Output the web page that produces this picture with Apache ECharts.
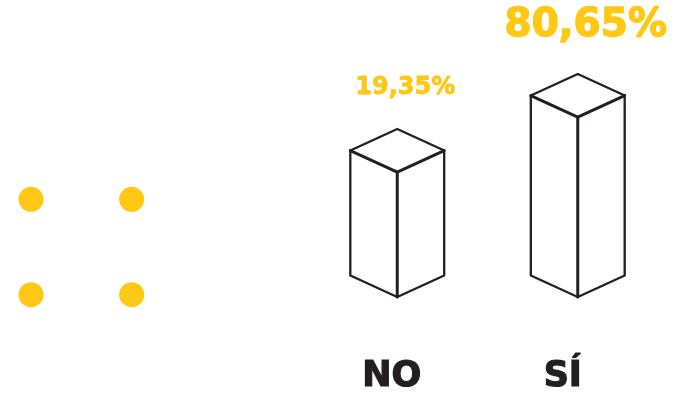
<!DOCTYPE html>
<html>
<head>
<meta charset="utf-8">
<script src="https://cdn.jsdelivr.net/npm/echarts@6/dist/echarts.min.js"></script>
<style>
html,body{margin:0;padding:0;background:#fff;}
#chart{width:674px;height:401px;}
</style>
</head>
<body>
<div id="chart"></div>
<script>
const categories = ['NO', 'SÍ'];
const values = [19.35, 80.65];
const valueLabels = ['19,35%', '80,65%'];

const INK = '#231f20';
const YELLOW = '#FFC814';
const labelFontSize = {'NO': 24, 'SÍ': 39};
const labelStroke = {'NO': 0.8, 'SÍ': 1.4};
const AXIS_MIN = -120;

const chart = echarts.init(document.getElementById('chart'), null, {renderer: 'canvas'});

function renderBox(params, api) {
  const idx = api.value(0);
  const val = api.value(1);
  const top = api.coord([idx, val]);
  const base = api.coord([idx, AXIS_MIN])[1];
  const cx = top[0];
  const yT = top[1];
  const hw = api.size([1, 0])[0] * 0.26;
  const d = 21.5;
  const FT = [cx, yT], LT = [cx - hw, yT - d], RT = [cx + hw, yT - d], BT = [cx, yT - 2 * d];
  const FB = [cx, base], LB = [cx - hw, base - d], RB = [cx + hw, base - d];
  const thin = {stroke: INK, lineWidth: 2.3, fill: null, lineJoin: 'round', lineCap: 'round'};
  const thick = {stroke: INK, lineWidth: 3, fill: null, lineJoin: 'round', lineCap: 'round'};
  const cat = categories[idx];
  return {
    type: 'group',
    children: [
      {type: 'polygon', shape: {points: [LT, FT, FB, LB]}, style: {fill: '#fff'}},
      {type: 'polygon', shape: {points: [FT, RT, RB, FB]}, style: {fill: '#fff'}},
      {type: 'polygon', shape: {points: [LT, BT, RT, FT]}, style: {fill: '#fff'}},
      {type: 'polyline', shape: {points: [LT, BT, RT]}, style: thin},
      {type: 'polyline', shape: {points: [LT, FT, RT]}, style: thick},
      {type: 'polyline', shape: {points: [FT, FB]}, style: thick},
      {type: 'polyline', shape: {points: [LT, LB, FB, RB, RT]}, style: thin},
      {
        type: 'text',
        style: {
          text: valueLabels[idx],
          x: cx + 8,
          y: yT - 2 * d - 29,
          align: 'center',
          verticalAlign: 'bottom',
          fill: YELLOW,
          stroke: YELLOW,
          lineWidth: labelStroke[cat],
          fontFamily: 'DejaVu Sans',
          fontWeight: 'bold',
          fontSize: labelFontSize[cat]
        }
      }
    ]
  };
}

const catStyle = {fontFamily: 'DejaVu Sans', fontWeight: 'bold', fontSize: 35, color: INK, textBorderColor: INK, textBorderWidth: 1.2};

const option = {
  backgroundColor: '#ffffff',
  animation: false,
  grid: {left: 307, right: 6, top: 99.7, bottom: 104},
  xAxis: {
    type: 'category',
    data: categories,
    axisLine: {show: false},
    axisTick: {show: false},
    axisLabel: {
      margin: 80,
      verticalAlign: 'middle',
      formatter: function (v) { return v === 'NO' ? '{no|' + v + '}' : '{si|' + v + '}'; },
      rich: {
        no: Object.assign({padding: [0, 11, 0, 0]}, catStyle),
        si: Object.assign({padding: [0, 30, 0, 0]}, catStyle)
      }
    }
  },
  yAxis: {
    type: 'value',
    min: AXIS_MIN,
    max: 100,
    interval: 20,
    show: false
  },
  series: [{
    type: 'custom',
    clip: false,
    renderItem: renderBox,
    data: categories.map((c, i) => [i, values[i]])
  }],
  graphic: [
    {type: 'circle', shape: {cx: 31, cy: 199.3, r: 12.5}, style: {fill: YELLOW}},
    {type: 'circle', shape: {cx: 131.7, cy: 199.3, r: 12.5}, style: {fill: YELLOW}},
    {type: 'circle', shape: {cx: 31, cy: 294.7, r: 12.5}, style: {fill: YELLOW}},
    {type: 'circle', shape: {cx: 131.7, cy: 294.7, r: 12.5}, style: {fill: YELLOW}}
  ]
};
chart.setOption(option);
</script>
</body>
</html>
